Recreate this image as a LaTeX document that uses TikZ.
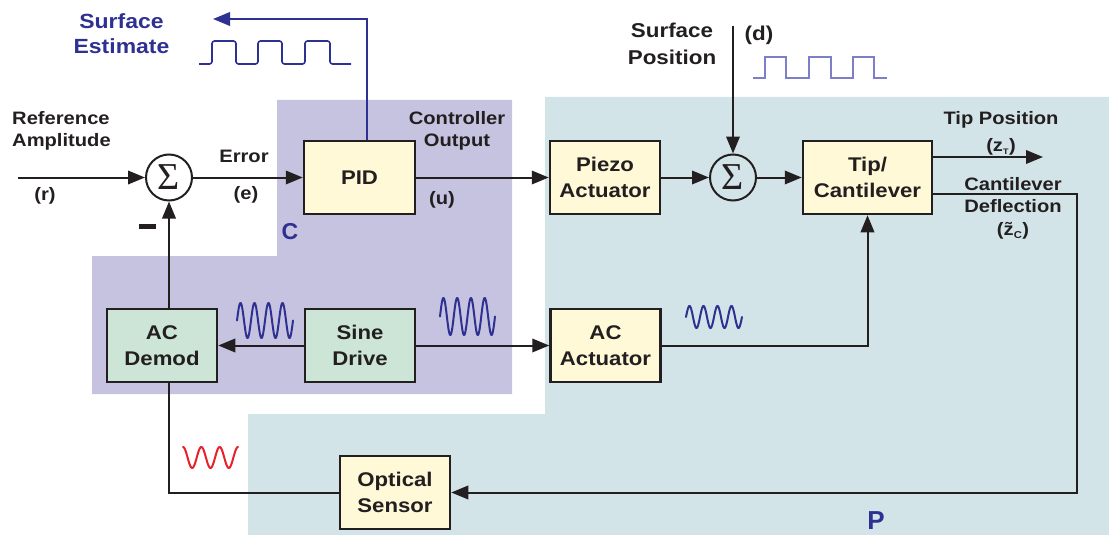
\documentclass[tikz,border=0pt]{standalone}
\usepackage{fontspec}
\setmainfont{Liberation Sans}[FakeStretch=1.12]
\newfontfamily\plainsans{Liberation Sans}
\newfontfamily\sigfont{Liberation Serif}
\usetikzlibrary{arrows.meta}
\definecolor{regC}{RGB}{197,195,224}
\definecolor{regP}{RGB}{211,228,233}
\definecolor{boxY}{RGB}{255,249,215}
\definecolor{boxG}{RGB}{204,229,214}
\definecolor{dblue}{RGB}{46,49,146}
\definecolor{lblue}{RGB}{125,127,200}
\definecolor{ink}{RGB}{35,31,32}
\definecolor{wred}{RGB}{232,32,42}
\begin{document}
\begin{tikzpicture}[x=1pt,y=-1pt,
 ybox/.style={draw=ink,line width=2.5pt,fill=boxY,minimum width=110pt,minimum height=73pt,inner sep=0pt,align=center,text=ink,font=\bfseries\fontsize{19.8}{26}\selectfont},
 gbox/.style={ybox,fill=boxG},
 sumnode/.style={circle,draw=ink,line width=2pt,minimum size=46pt,inner sep=0pt,text=ink,font=\sigfont\fontsize{38}{38}\selectfont},
 lab/.style={align=center,text=ink,inner sep=0pt,font=\bfseries\fontsize{18}{22}\selectfont},
 biglab/.style={align=center,text=dblue,inner sep=0pt,font=\bfseries\fontsize{20.5}{25}\selectfont},
 regionlab/.style={text=dblue,inner sep=0pt,font=\plainsans\bfseries\fontsize{23}{23}\selectfont},
 conn/.style={draw=ink,line width=2pt},
 arr/.style={conn,-{Triangle[length=17pt,width=13.5pt]}},
 wave/.style={line width=2pt,line join=round,line cap=round},
 ]
\useasboundingbox (0,0) rectangle (1109,535);
% regions
\fill[regC] (277,100) -- (512,100) -- (512,394) -- (92,394) -- (92,256) -- (277,256) -- cycle;
\fill[regP] (545,97) -- (1109,97) -- (1109,535) -- (248,535) -- (248,414) -- (545,414) -- cycle;
\node[regionlab] (clab) at (290,232) {C};
\node[regionlab,font=\plainsans\bfseries\fontsize{26}{26}\selectfont] (plab) at (876,521) {P};

% blocks
\node[sumnode] (s1) at (169,177.5) {Σ};
\node[ybox,minimum width=111pt] (pid) at (359.5,177.5) {PID};
\node[ybox] (piezo) at (605,177.5) {Piezo\\Actuator};
\node[sumnode] (s2) at (733,177.5) {Σ};
\node[ybox,minimum width=129pt] (tip) at (867.5,177.5) {Tip/\\Cantilever};
\node[gbox] (demod) at (162,345.5) {AC\\Demod};
\node[gbox] (sine) at (360,345.5) {Sine\\Drive};
\node[ybox] (acact) at (605.5,345.5) {AC\\Actuator};
\node[ybox] (opt) at (395,492.5) {Optical\\Sensor};

% free ends
\coordinate (rin) at (18,177.5);
\coordinate (seup) at (367,19);
\coordinate (seout) at (213,19);
\coordinate (dtop) at (733,26);
\coordinate (tipout) at (1043,157);
\coordinate (cr) at (1077,194);

% connectors
\draw[arr] (rin) -- (s1);
\draw[arr] (s1) -- (pid);
\draw[arr] (pid) -- (piezo);
\draw[arr] (piezo) -- (s2);
\draw[arr] (s2) -- (tip);
\draw[arr] (dtop) -- (s2);
\draw[arr] (tip.east |- tipout) -- (tipout);
\draw[arr] (tip.east |- cr) -- (cr) |- (opt.east);
\draw[arr] (acact) -| (tip.south);
\draw[arr] (sine) -- (acact);
\draw[arr] (sine) -- (demod);
\draw[arr] (demod.north -| s1) -- (s1);
\draw[conn] (opt.west) -| (demod.south -| s1);
\draw[arr,draw=dblue] (pid.north -| seup) -- (seup) -- (seout);
\fill[ink] (139,224) rectangle (156,229);

% labels
\node[lab,align=left,anchor=west] (reflab) at (12,131) {Reference\\Amplitude};
\node[lab] (rlab) at (45,196) {(r)};
\node[lab] (errlab) at (244,156) {Error};
\node[lab] (elab) at (246,195) {(e)};
\node[lab] (ctrllab) at (457,131) {Controller\\Output};
\node[lab] (ulab) at (442,200) {(u)};
\node[biglab] (selab) at (121.5,33.5) {Surface\\Estimate};
\node[lab,font=\bfseries\fontsize{20}{27}\selectfont] (splab) at (672,43.5) {Surface\\Position};
\node[lab,font=\bfseries\fontsize{20}{27}\selectfont] (dlab) at (759,35) {(d)};
\node[lab] (tplab) at (1001,120) {Tip Position};
\node[lab] (ztlab) at (1001,147) {(z\textsubscript{\fontsize{8}{8}\selectfont T})};
\node[lab] (cdlab) at (1013,195) {Cantilever\\Deflection};
\node[lab] (zclab) at (1013,231) {(\~{z}\textsubscript{\fontsize{10}{10}\selectfont C})};

% waveforms
\draw[dblue,line width=1.6pt,rounded corners=2.5pt] (199,64) -- (212,64) -- (212,41) -- (236,41) -- (236,64) -- (258,64) -- (258,41) -- (282,41) -- (282,64) -- (305,64) -- (305,41) -- (330,41) -- (330,64) -- (351,64);
\draw[lblue,line width=2pt] (753,78) -- (765,78) -- (765,57) -- (786,57) -- (786,78) -- (809,78) -- (809,57) -- (831,57) -- (831,78) -- (853,78) -- (853,57) -- (874,57) -- (874,78) -- (887,78);
\draw[wave,dblue] plot[domain=0:1440,samples=161,variable=\t] ({237+\t/360*14},{320.5-17.5*sin(\t)});
\draw[wave,dblue] plot[domain=0:1440,samples=161,variable=\t] ({440+\t/360*13.75},{316.5-18.5*sin(\t)});
\draw[wave,dblue] plot[domain=0:1440,samples=161,variable=\t] ({686+\t/360*14},{317-11*sin(\t)});
\draw[wave,wred] plot[domain=0:1080,samples=121,variable=\t] ({183+\t/360*18.33},{457.5-10.5*cos(\t)});
\end{tikzpicture}
\end{document}
